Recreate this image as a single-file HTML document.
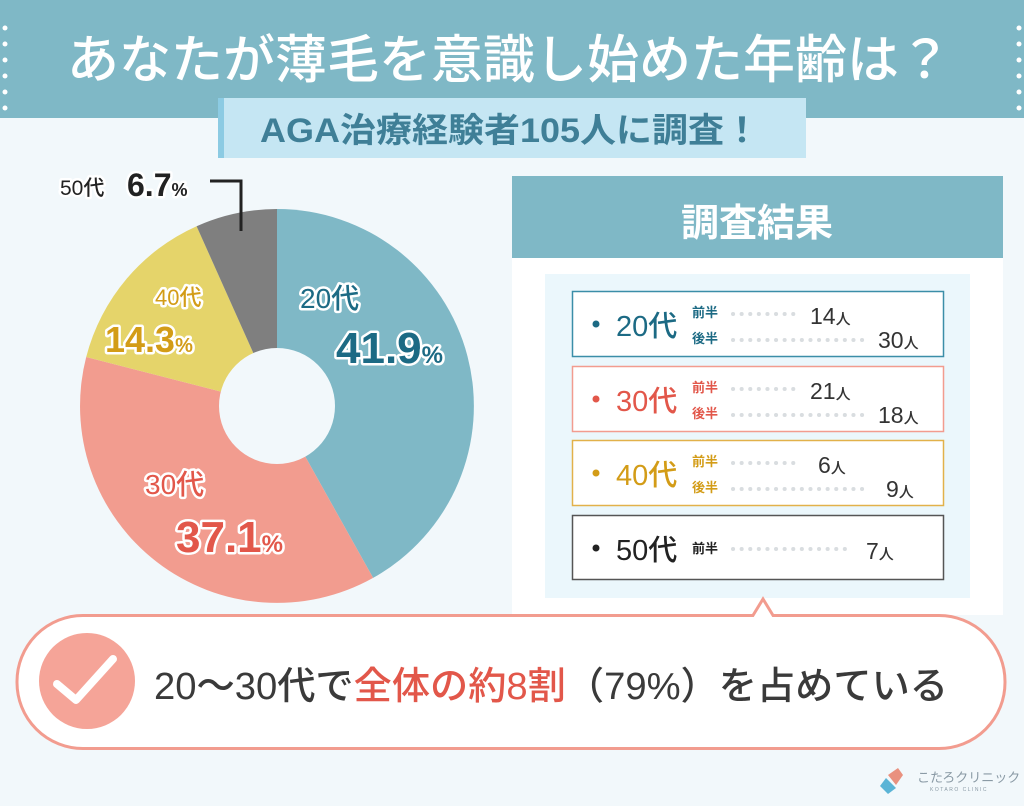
<!DOCTYPE html>
<html><head><meta charset="utf-8"><style>
html,body{margin:0;padding:0;background:#f2f8fb;}
svg{display:block;}
text{font-family:"Liberation Sans","Noto Sans CJK JP",sans-serif;}
</style></head><body>
<svg width="1024" height="806" viewBox="0 0 1024 806" xmlns="http://www.w3.org/2000/svg">
<rect width="1024" height="806" fill="#f2f8fb"/>
<rect x="0" y="0" width="1024" height="118" fill="#7fb8c6"/>
<g fill="#fff">
<circle cx="5" cy="28" r="2.5"/><circle cx="5" cy="44" r="2.5"/><circle cx="5" cy="60" r="2.5"/><circle cx="5" cy="76" r="2.5"/><circle cx="5" cy="92" r="2.5"/><circle cx="5" cy="108" r="2.5"/>
<circle cx="1019" cy="28" r="2.5"/><circle cx="1019" cy="44" r="2.5"/><circle cx="1019" cy="60" r="2.5"/><circle cx="1019" cy="76" r="2.5"/><circle cx="1019" cy="92" r="2.5"/><circle cx="1019" cy="108" r="2.5"/>
</g>
<text x="509" y="78" text-anchor="middle" font-size="52" fill="#fff" font-weight="500">あなたが薄毛を意識し始めた年齢は？</text>
<rect x="218" y="98" width="588" height="60" fill="#c5e6f3"/>
<rect x="218" y="98" width="6" height="60" fill="#8ccbe3"/>
<text x="510" y="142" text-anchor="middle" font-size="34" font-weight="bold" fill="#3f7f97" textLength="500" lengthAdjust="spacingAndGlyphs">AGA治療経験者105人に調査！</text>

<!-- pie -->
<path d="M277,406 L277,209 A197,197 0 0 1 373.1,577.9 Z" fill="#7fb8c6"/>
<path d="M277,406 L373.1,577.9 A197,197 0 0 1 86.2,357 Z" fill="#f29c8f"/>
<path d="M277,406 L86.2,357 A197,197 0 0 1 196.6,226.2 Z" fill="#e5d46a"/>
<path d="M277,406 L196.6,226.2 A197,197 0 0 1 277,209 Z" fill="#7f7f7f"/>
<circle cx="277" cy="406" r="58" fill="#f2f8fb"/>
<path d="M210,181 L241,181 L241,231" fill="none" stroke="#222" stroke-width="3"/>
<g stroke="#fff" stroke-width="5" paint-order="stroke" stroke-linejoin="round" font-weight="500">
<text x="60" y="195" font-size="21" fill="#222">50代</text>
<text x="127" y="196" font-size="32" fill="#222" font-weight="bold">6.7<tspan font-size="18">%</tspan></text>
<text x="300" y="308" font-size="28" fill="#1c6a84">20代</text>
<text x="336" y="363" font-size="44" fill="#1c6a84" font-weight="bold">41.9<tspan font-size="24">%</tspan></text>
<text x="155" y="305" font-size="22" fill="#d39c17">40代</text>
<text x="105" y="352" font-size="36" fill="#d39c17" font-weight="bold">14.3<tspan font-size="20">%</tspan></text>
<text x="145" y="494" font-size="28" fill="#e2574a">30代</text>
<text x="176" y="552" font-size="44" fill="#e2574a" font-weight="bold">37.1<tspan font-size="24">%</tspan></text>
</g>

<!-- right panel -->
<rect x="512" y="176" width="491" height="439" fill="#fff"/>
<rect x="512" y="176" width="491" height="82" fill="#7fb8c6"/>
<text x="757" y="236" text-anchor="middle" font-size="38" font-weight="bold" fill="#fff">調査結果</text>
<rect x="545" y="274" width="425" height="324" fill="#ebf7fc"/>

<g font-weight="500">
<rect x="572.5" y="291.5" width="371" height="65" fill="#fff" stroke="#3b8ea8" stroke-width="1.5"/>
<circle cx="596" cy="324" r="3.5" fill="#1c6a84"/>
<text x="616" y="336" font-size="29" fill="#1c6a84">20代</text>
<text x="692" y="317" font-size="13" fill="#1c6a84" font-weight="bold">前半</text>
<text x="692" y="343" font-size="13" fill="#1c6a84" font-weight="bold">後半</text>
<line x1="733" y1="314" x2="797" y2="314" stroke="#d9dde0" stroke-width="4" stroke-dasharray="0.1,8.5" stroke-linecap="round"/>
<line x1="733" y1="340" x2="865" y2="340" stroke="#d9dde0" stroke-width="4" stroke-dasharray="0.1,8.5" stroke-linecap="round"/>
<text x="810" y="324" font-size="23" fill="#333">14<tspan font-size="15">人</tspan></text>
<text x="878" y="348" font-size="23" fill="#333">30<tspan font-size="15">人</tspan></text>

<rect x="572.5" y="366.5" width="371" height="65" fill="#fff" stroke="#f29c8f" stroke-width="1.5"/>
<circle cx="596" cy="399" r="3.5" fill="#e2574a"/>
<text x="616" y="411" font-size="29" fill="#e2574a">30代</text>
<text x="692" y="392" font-size="13" fill="#e2574a" font-weight="bold">前半</text>
<text x="692" y="418" font-size="13" fill="#e2574a" font-weight="bold">後半</text>
<line x1="733" y1="389" x2="797" y2="389" stroke="#d9dde0" stroke-width="4" stroke-dasharray="0.1,8.5" stroke-linecap="round"/>
<line x1="733" y1="415" x2="865" y2="415" stroke="#d9dde0" stroke-width="4" stroke-dasharray="0.1,8.5" stroke-linecap="round"/>
<text x="810" y="399" font-size="23" fill="#333">21<tspan font-size="15">人</tspan></text>
<text x="878" y="423" font-size="23" fill="#333">18<tspan font-size="15">人</tspan></text>

<rect x="572.5" y="440.5" width="371" height="65" fill="#fff" stroke="#e2b14a" stroke-width="1.5"/>
<circle cx="596" cy="473" r="3.5" fill="#d39c17"/>
<text x="616" y="485" font-size="29" fill="#d39c17">40代</text>
<text x="692" y="466" font-size="13" fill="#d39c17" font-weight="bold">前半</text>
<text x="692" y="492" font-size="13" fill="#d39c17" font-weight="bold">後半</text>
<line x1="733" y1="463" x2="797" y2="463" stroke="#d9dde0" stroke-width="4" stroke-dasharray="0.1,8.5" stroke-linecap="round"/>
<line x1="733" y1="489" x2="865" y2="489" stroke="#d9dde0" stroke-width="4" stroke-dasharray="0.1,8.5" stroke-linecap="round"/>
<text x="818" y="473" font-size="23" fill="#333">6<tspan font-size="15">人</tspan></text>
<text x="886" y="497" font-size="23" fill="#333">9<tspan font-size="15">人</tspan></text>

<rect x="572.5" y="515.5" width="371" height="64" fill="#fff" stroke="#555" stroke-width="1.5"/>
<circle cx="596" cy="548" r="3.5" fill="#222"/>
<text x="616" y="560" font-size="29" fill="#222">50代</text>
<text x="692" y="553" font-size="13" fill="#222" font-weight="bold">前半</text>
<line x1="733" y1="549" x2="850" y2="549" stroke="#d9dde0" stroke-width="4" stroke-dasharray="0.1,8.5" stroke-linecap="round"/>
<text x="866" y="559" font-size="23" fill="#333">7<tspan font-size="15">人</tspan></text>
</g>

<!-- callout -->
<rect x="17" y="615.5" width="988" height="133" rx="66" fill="#fff" stroke="#f29c8f" stroke-width="3"/>
<path d="M752,617 L763,599 L774,617" fill="#fff" stroke="#f29c8f" stroke-width="3"/>
<rect x="750" y="617" width="26" height="4" fill="#fff"/>
<circle cx="87" cy="681" r="48" fill="#f5a498"/>
<path d="M57,684 L76,700 L113,659" fill="none" stroke="#fff" stroke-width="8" stroke-linecap="round" stroke-linejoin="round"/>
<text x="154" y="699" font-size="38" fill="#3a3a3a" font-weight="500" textLength="794" lengthAdjust="spacingAndGlyphs">20〜30代で<tspan fill="#e2574a">全体の約8割</tspan>（79%）を占めている</text>

<!-- logo -->
<path d="M888,775 L898,768 L903,775 L896,785 Z" fill="#e9917f"/>
<path d="M886,778 L896,788 L888,794 L880,786 Z" fill="#5bb4d6"/>
<text x="917" y="782" font-size="13" fill="#8a9aa5">こたろクリニック</text>
<text x="930" y="791" font-size="5" fill="#8a9aa5" letter-spacing="1.5">KOTARO CLINIC</text>
</svg>
</body></html>
